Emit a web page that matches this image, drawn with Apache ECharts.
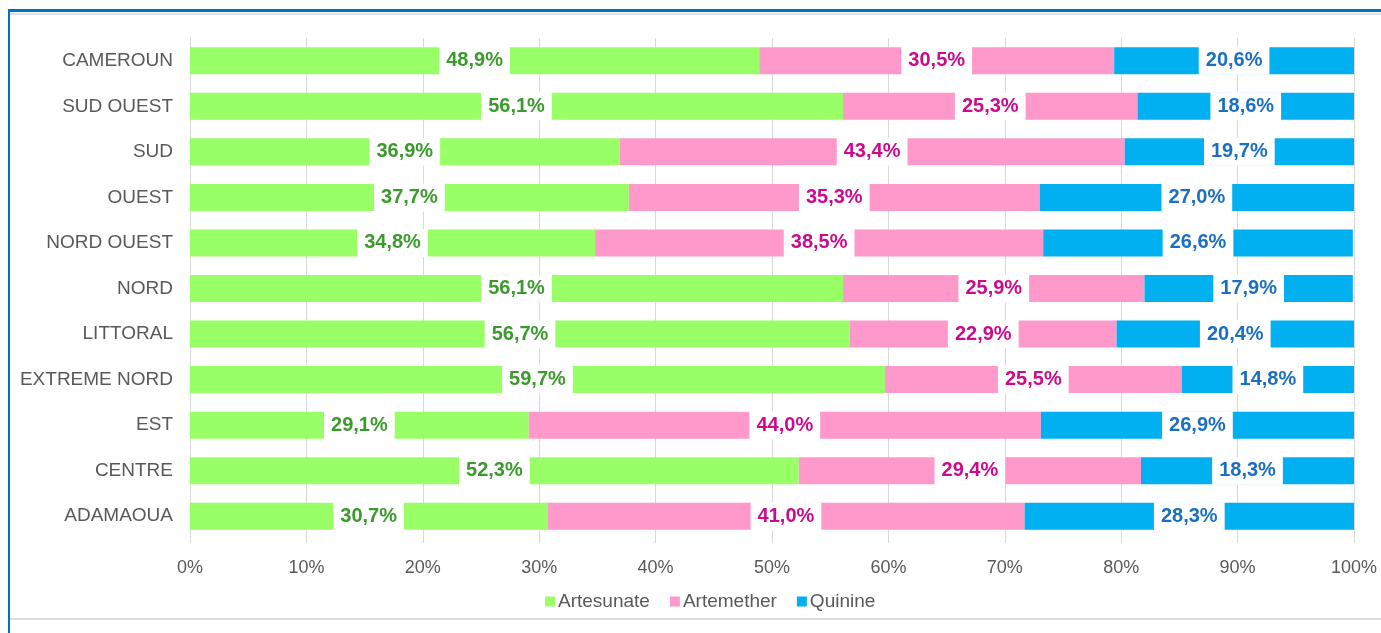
<!DOCTYPE html>
<html>
<head>
<meta charset="utf-8">
<script src="https://cdn.jsdelivr.net/npm/echarts@6/dist/echarts.min.js"></script>
<style>
  html, body { margin: 0; padding: 0; background: #fff; }
  #chart { width: 1381px; height: 633px; }
</style>
</head>
<body>
<div id="chart"></div>
<script>
/*#### 数据 ####*/
var regions = ["CAMEROUN", "SUD OUEST", "SUD", "OUEST", "NORD OUEST", "NORD", "LITTORAL", "EXTREME NORD", "EST", "CENTRE", "ADAMAOUA"];
var artesunate = [48.9, 56.1, 36.9, 37.7, 34.8, 56.1, 56.7, 59.7, 29.1, 52.3, 30.7];
var artemether = [30.5, 25.3, 43.4, 35.3, 38.5, 25.9, 22.9, 25.5, 44.0, 29.4, 41.0];
var quinine = [20.6, 18.6, 19.7, 27.0, 26.6, 17.9, 20.4, 14.8, 26.9, 18.3, 28.3];
var xTicks = [0, 10, 20, 30, 40, 50, 60, 70, 80, 90, 100];

var font = "'Liberation Sans Narrow', 'Arial Narrow', 'Liberation Sans', Arial, sans-serif";

function pct(v) {
  return v.toFixed(1).replace(".", ",") + "%";
}

function makeSeries(name, data, barColor, textColor) {
  return {
    name: name,
    type: "bar",
    stack: "total",
    barWidth: 27,
    data: data,
    itemStyle: { color: barColor },
    label: {
      show: true,
      position: "inside",
      formatter: function (p) { return pct(p.value); },
      color: textColor,
      fontFamily: font,
      fontWeight: "bold",
      fontSize: 20,
      backgroundColor: "#fff",
      padding: [5, 7],
      lineHeight: 18
    }
  };
}

var myChart = echarts.init(document.getElementById("chart"));
var option = {
  animation: false,
  backgroundColor: "#fff",
  grid: { left: 190, right: 27, top: 38, bottom: 94, outerBoundsMode: "none", containLabel: false },
  legend: {
    left: 540,
    top: 587,
    itemWidth: 10,
    itemHeight: 10,
    itemGap: 20,
    icon: "rect",
    textStyle: { color: "#595959", fontFamily: font, fontSize: 19, padding: [0, 0, 0, -2] },
    data: ["Artesunate", "Artemether", "Quinine"]
  },
  xAxis: {
    type: "value",
    min: 0,
    max: 100,
    interval: 10,
    axisLine: { show: false },
    axisTick: { show: true, length: 4, lineStyle: { color: "#d9d9d9" } },
    splitLine: { show: true, lineStyle: { color: "#d9d9d9", width: 1 } },
    axisLabel: {
      color: "#595959",
      fontFamily: font,
      fontSize: 18,
      margin: 20,
      formatter: function (v) { return xTicks.indexOf(v) >= 0 ? v + "%" : ""; }
    }
  },
  yAxis: {
    type: "category",
    inverse: true,
    data: regions,
    axisLine: { show: true, lineStyle: { color: "#d9d9d9" } },
    axisTick: { show: false },
    axisLabel: { color: "#595959", fontFamily: font, fontSize: 19, margin: 17 }
  },
  series: [
    makeSeries("Artesunate", artesunate, "#99FF66", "#3A9A2C"),
    makeSeries("Artemether", artemether, "#FF99CC", "#CC0A8E"),
    makeSeries("Quinine", quinine, "#00B0F0", "#1A6FC0")
  ],
  graphic: [
    { type: "rect", shape: { x: 8, y: 9, width: 1373, height: 3 }, style: { fill: "#0070C0" } },
    { type: "rect", shape: { x: 8, y: 9, width: 2, height: 624 }, style: { fill: "#0070C0" } },
    { type: "rect", shape: { x: 10, y: 13, width: 1371, height: 2 }, style: { fill: "#dde0e8" } },
    { type: "rect", shape: { x: 10, y: 618, width: 1371, height: 2 }, style: { fill: "#dcdcdc" } }
  ]
};
myChart.setOption(option, true);
</script>
</body>
</html>
